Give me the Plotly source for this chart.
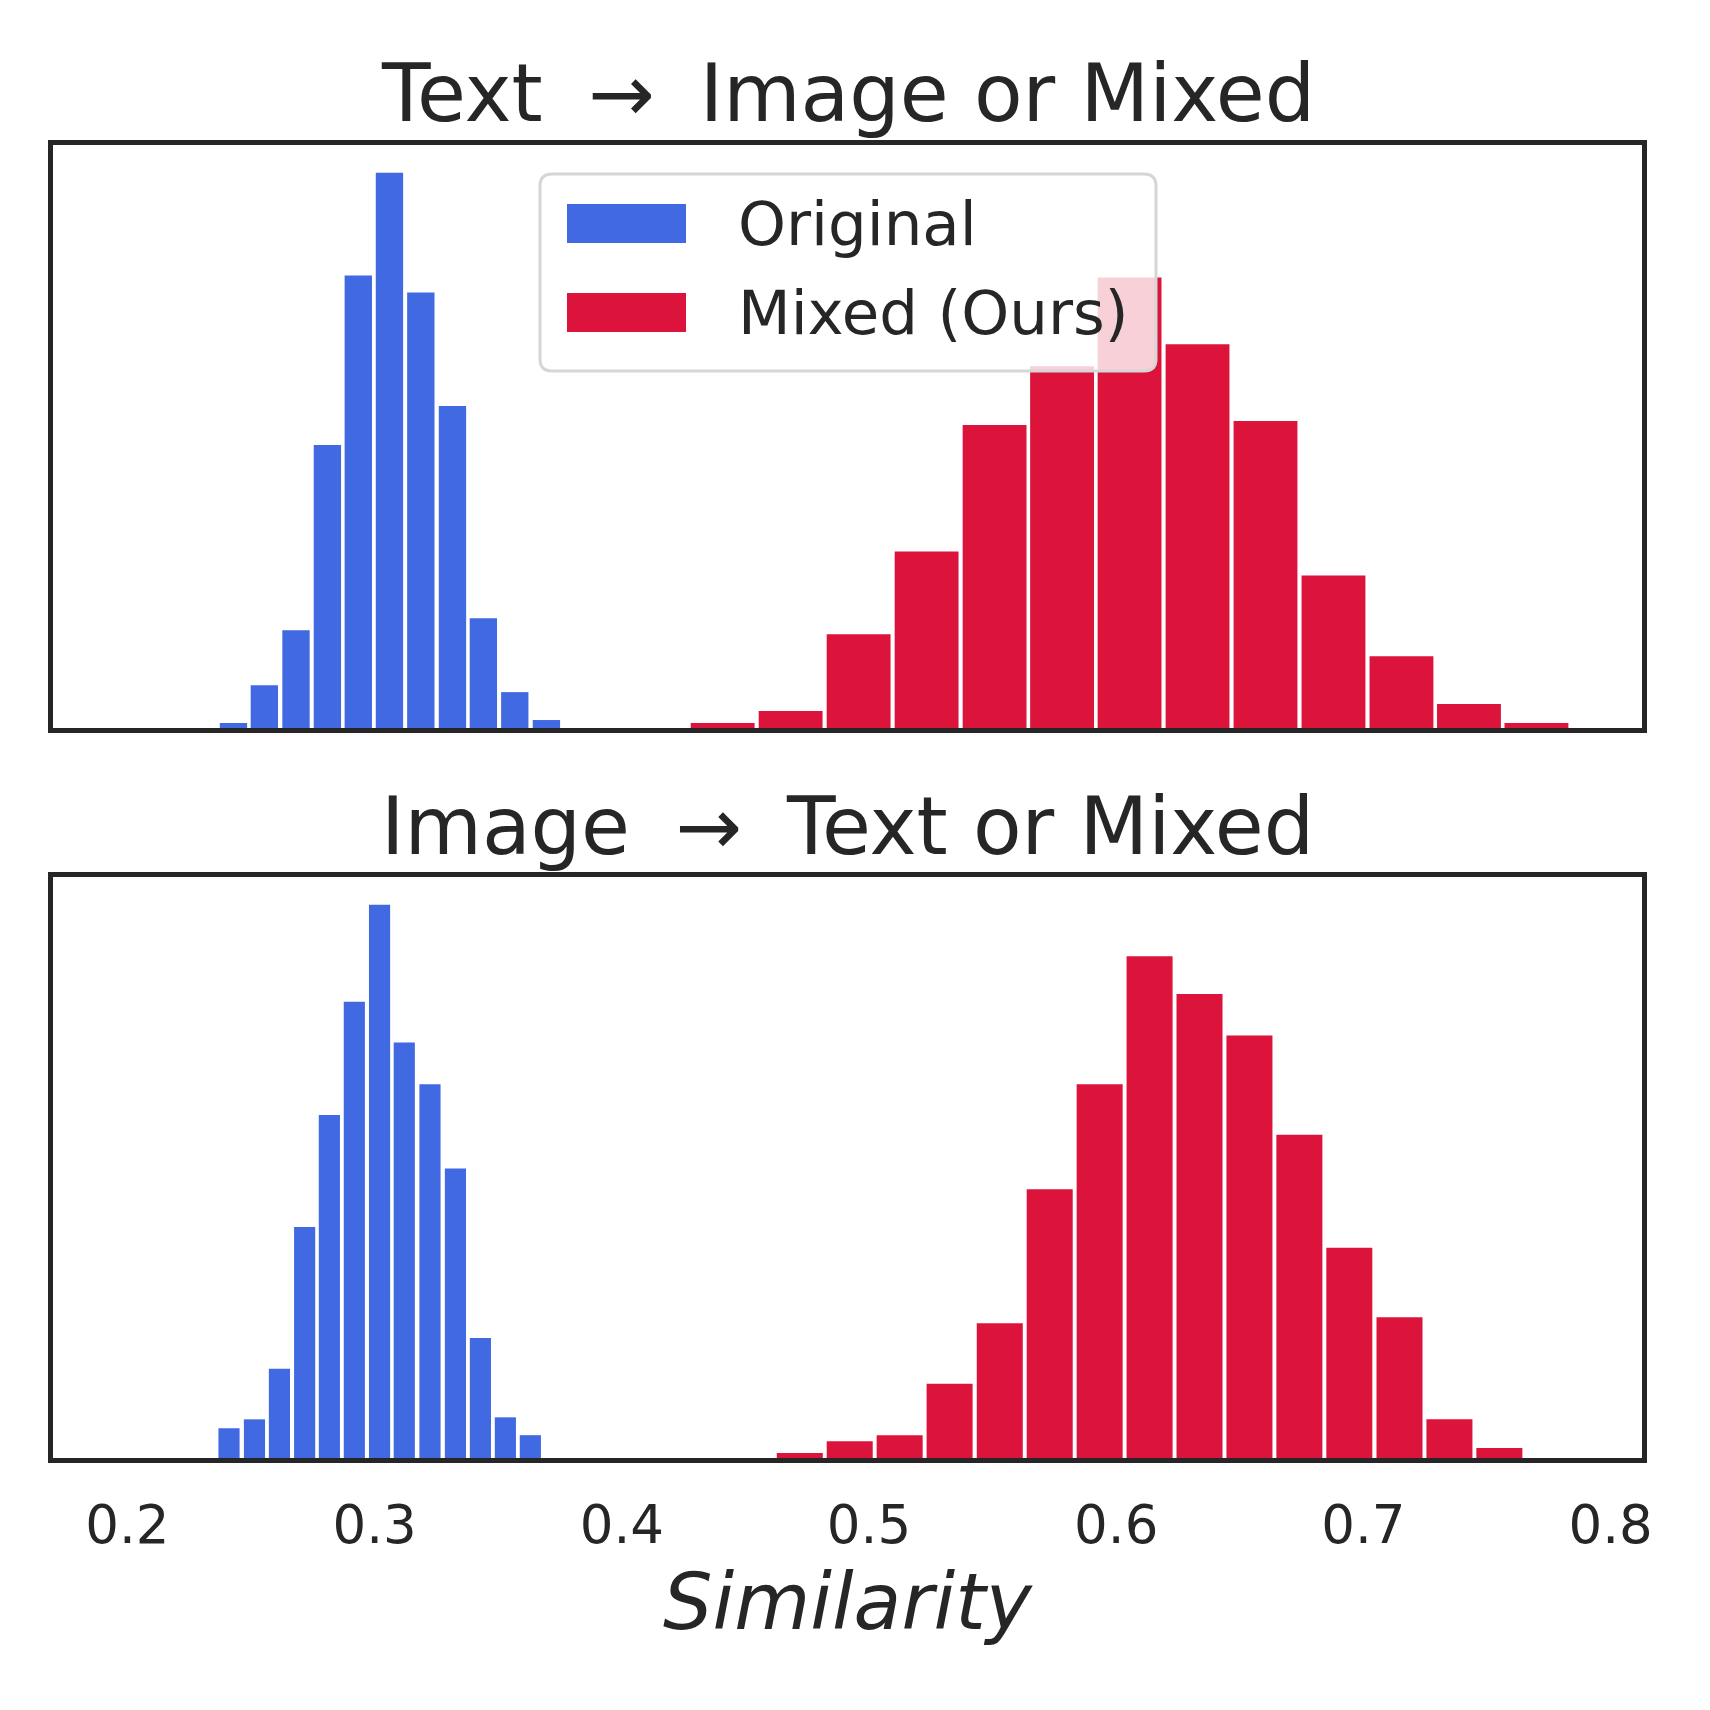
import numpy as np
import plotly.graph_objects as go

# histogram bin centres (similarity) and bar heights
t2i_orig_x = [0.2429, 0.2554, 0.2682, 0.2809, 0.2934, 0.3060, 0.3187, 0.3315,
              0.3440, 0.3567, 0.3695]
t2i_orig_y = [5, 43, 98, 284, 454, 557, 437, 323, 110, 36, 8]

t2i_mixed_x = [0.4408, 0.4683, 0.4958, 0.5233, 0.5508, 0.5781, 0.6054, 0.6329,
               0.6604, 0.6879, 0.7154, 0.7427, 0.7700]
t2i_mixed_y = [5, 17, 94, 177, 304, 363, 452, 385, 308, 153, 72, 24, 5]

i2t_orig_x = [0.2411, 0.2514, 0.2615, 0.2717, 0.2817, 0.2918, 0.3020, 0.3120,
              0.3224, 0.3327, 0.3428, 0.3529, 0.3630]
i2t_orig_y = [30, 39, 90, 233, 346, 460, 558, 419, 377, 292, 121, 41, 23]

i2t_mixed_x = [0.4720, 0.4922, 0.5124, 0.5326, 0.5529, 0.5731, 0.5933, 0.6135,
               0.6337, 0.6539, 0.6741, 0.6943, 0.7146, 0.7348, 0.7550]
i2t_mixed_y = [5, 17, 23, 75, 136, 271, 377, 506, 468, 426, 326, 212, 142, 39, 10]

titles = ['Text\u00a0\u2005\u2192\u00a0\u2005Image or Mixed',
          'Image\u00a0\u2005\u2192\u00a0\u2005Text or Mixed']
series_names = ['Original', 'Mixed (Ours)']
tick_vals = [0.2, 0.3, 0.4, 0.5, 0.6, 0.7, 0.8]

BLUE = '#4169E1'
RED = '#DC143C'
INK = '#262626'
FONT = 'DejaVu Sans'

# the html page puts the figure 8px in from the top-left corner
OFF = 8
W = H = 1710 - OFF
L, R, T, B = 53 - OFF, 68, 145 - OFF, 252
PW, PH = W - L - R, H - T - B
GAP = 0.0016  # white gap between neighbouring bars, in x units


def px_x(p):
    # page pixel -> paper x
    return (p - OFF - L) / PW


def px_y(p):
    # page pixel -> paper y
    return (H - B - (p - OFF)) / PH


def bars(x, y, color, name, xa, ya):
    bw = float(np.mean(np.diff(x)))
    return go.Bar(x=x, y=y, width=[bw - GAP] * len(x), name=name,
                  marker=dict(color=color, line=dict(width=0)),
                  xaxis=xa, yaxis=ya, showlegend=False)


fig = go.Figure()
fig.add_trace(bars(t2i_orig_x, t2i_orig_y, BLUE, series_names[0], 'x', 'y'))
fig.add_trace(bars(t2i_mixed_x, t2i_mixed_y, RED, series_names[1], 'x', 'y'))
fig.add_trace(bars(i2t_orig_x, i2t_orig_y, BLUE, series_names[0], 'x2', 'y2'))
fig.add_trace(bars(i2t_mixed_x, i2t_mixed_y, RED, series_names[1], 'x2', 'y2'))

top_max = max(t2i_orig_y + t2i_mixed_y)
bot_max = max(i2t_orig_y + i2t_mixed_y)

frame = dict(showline=True, linecolor=INK, linewidth=4.5, mirror=True,
             showgrid=False, zeroline=False)
xrange = [0.1699, 0.8127]

fig.update_layout(
    width=W, height=H,
    margin=dict(l=L, r=R, t=T, b=B, autoexpand=False),
    paper_bgcolor='white', plot_bgcolor='white',
    barmode='overlay',
    font=dict(family=FONT, color=INK),
    xaxis=dict(frame, domain=[0, 1], anchor='y', range=xrange,
               showticklabels=False, ticks=''),
    yaxis=dict(frame, domain=[px_y(728), 1], anchor='x',
               range=[0, 1.05 * top_max], showticklabels=False, ticks=''),
    xaxis2=dict(frame, domain=[0, 1], anchor='y2', range=xrange,
                tickvals=tick_vals, tickformat='.1f', ticks='',
                ticklabelstandoff=17,
                tickfont=dict(family=FONT, size=53, color=INK),
                title=dict(text='<i>Similarity</i>', standoff=22,
                           font=dict(family=FONT, size=78, color=INK))),
    yaxis2=dict(frame, domain=[0, px_y(877)], anchor='x2',
                range=[0, 1.05 * bot_max], showticklabels=False, ticks=''),
)

# panel titles
for text, cy in zip(titles, [94, 826]):
    fig.add_annotation(text=text, x=0.5, y=px_y(cy), xref='paper', yref='paper',
                       xanchor='center', yanchor='middle', showarrow=False,
                       font=dict(family=FONT, size=79.5, color=INK))

# legend box drawn like the matplotlib one (rounded, semi-transparent)
x0, x1, y0, y1, rr = 540, 1156, 174, 371, 12
path = (f'M {px_x(x0 + rr)},{px_y(y0)} L {px_x(x1 - rr)},{px_y(y0)} '
        f'Q {px_x(x1)},{px_y(y0)} {px_x(x1)},{px_y(y0 + rr)} '
        f'L {px_x(x1)},{px_y(y1 - rr)} '
        f'Q {px_x(x1)},{px_y(y1)} {px_x(x1 - rr)},{px_y(y1)} '
        f'L {px_x(x0 + rr)},{px_y(y1)} '
        f'Q {px_x(x0)},{px_y(y1)} {px_x(x0)},{px_y(y1 - rr)} '
        f'L {px_x(x0)},{px_y(y0 + rr)} '
        f'Q {px_x(x0)},{px_y(y0)} {px_x(x0 + rr)},{px_y(y0)} Z')
fig.add_shape(type='path', path=path, xref='paper', yref='paper',
              fillcolor='rgba(255,255,255,0.8)',
              line=dict(color='#d6d6d6', width=3), layer='above')

for name, color, cy in zip(series_names, [BLUE, RED], [223.5, 312.5]):
    fig.add_shape(type='rect', xref='paper', yref='paper',
                  x0=px_x(567), x1=px_x(686), y0=px_y(cy - 19.5), y1=px_y(cy + 19.5),
                  fillcolor=color, line=dict(width=0), layer='above')
    fig.add_annotation(text=name, x=px_x(736), y=px_y(cy), xref='paper', yref='paper',
                       xanchor='left', yanchor='middle', showarrow=False,
                       font=dict(family=FONT, size=61, color=INK))

fig.write_html('out.html')
